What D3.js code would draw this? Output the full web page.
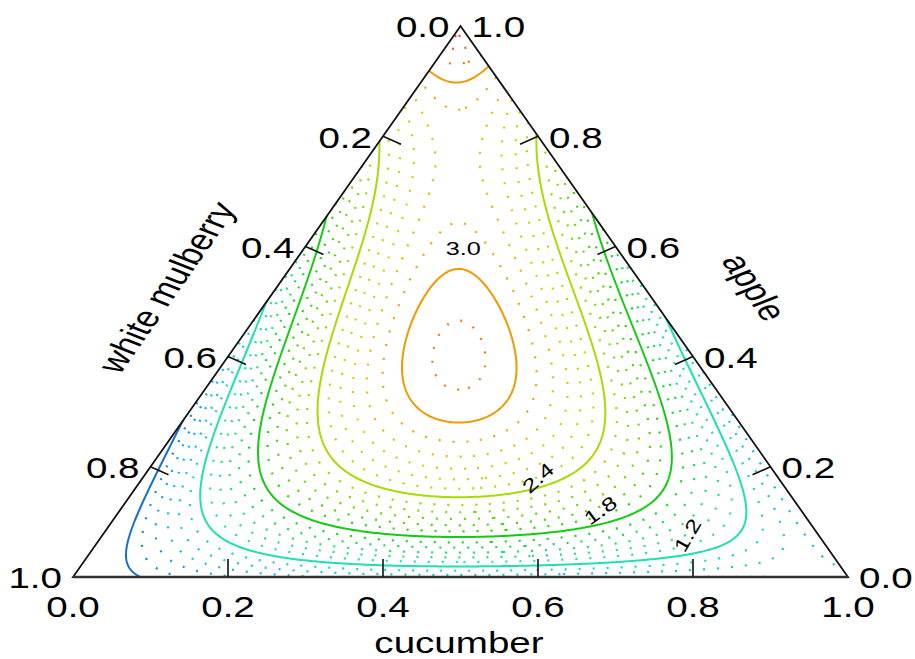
<!DOCTYPE html>
<html>
<head>
<meta charset="utf-8">
<script src="https://cdn.jsdelivr.net/npm/d3@7"></script>
<style>
  body { margin: 0; background: #fff; }
  svg { display: block; font-family: "Liberation Sans", Arial, sans-serif; }
</style>
</head>
<body>
<svg id="chart" width="915" height="659"></svg>
<script>
// --- data -------------------------------------------------------------
var axisNames = ["cucumber", "apple", "white mulberry"];
var tickValues = [0.0, 0.2, 0.4, 0.6, 0.8, 1.0];
var tickLabels = ["0.0", "0.2", "0.4", "0.6", "0.8", "1.0"];

// mixture response surface (Scheffe polynomial) fitted to the plotted contours
var linearTerms = [0.927, 3.387, 0.390];       // cuc, app, mul
var binaryTerms = [-3.517, 1.161, -2.729];     // cuc*app, cuc*mul, app*mul
var cubicTerms = [-0.517, -1.087, 0.957];      // ca(c-a), cm(c-m), am(a-m)
var ternaryTerms = [42.26];                    // cuc*app*mul
var quarticTerms = [15.49, 7.07, 19.92];       // c^2am, ca^2m, cam^2

var levels = [0.6, 0.7, 0.8, 0.9, 1.0, 1.1, 1.2, 1.3, 1.4, 1.5, 1.6, 1.7, 1.8, 1.9,
              2.0, 2.1, 2.2, 2.3, 2.4, 2.5, 2.6, 2.7, 2.8, 2.9, 3.0, 3.1, 3.2, 3.3];
var solidLevels = [0.6, 1.2, 1.8, 2.4, 3.0];
var labelLevels = ["3.0", "2.4", "1.8", "1.2"];
var labelCuc = [0.205, 0.51, 0.62, 0.755];
var labelApp = [0.597, 0.18, 0.121, 0.076];
var labelAngle = [0, -42, -36, -60];

// --- layout -----------------------------------------------------------
var svg = d3.select("#chart");
var x = d3.scaleLinear().domain([0, 1]).range([73, 848]);   // cucumber + apple/2
var y = d3.scaleLinear().domain([0, 1]).range([577, 26]);   // apple
var stretch = 1.33, fs = 29;

function px(c, a) { return [x(c + a / 2), y(a)]; }

var color = d3.scaleLinear()
  .domain([0.6, 0.9, 1.2, 1.5, 1.8, 2.1, 2.4, 2.7, 3.0, 3.3])
  .range(["#1570d0", "#10b8ec", "#1ee0b4", "#22e070", "#12cc12", "#66d800",
          "#a6dc00", "#e2c800", "#f09a00", "#e2482a"]);

function surface(c, a, m) {
  return linearTerms[0] * c + linearTerms[1] * a + linearTerms[2] * m
    + binaryTerms[0] * c * a + binaryTerms[1] * c * m + binaryTerms[2] * a * m
    + cubicTerms[0] * c * a * (c - a) + cubicTerms[1] * c * m * (c - m) + cubicTerms[2] * a * m * (a - m)
    + ternaryTerms[0] * c * a * m
    + c * a * m * (quarticTerms[0] * c + quarticTerms[1] * a + quarticTerms[2] * m);
}

// grid in pixel space, a bit larger than the triangle so no border edges show
var step = 2, x0 = 55, y0 = 10;
var nx = Math.ceil((866 - x0) / step), ny = Math.ceil((595 - y0) / step);
var values = new Array(nx * ny);
for (var j = 0; j < ny; j++) {
  for (var i = 0; i < nx; i++) {
    var a = y.invert(y0 + j * step);
    var c = x.invert(x0 + i * step) - a / 2;
    values[j * nx + i] = surface(c, a, 1 - c - a);
  }
}

var contours = d3.contours().size([nx, ny]).thresholds(levels)(values);
var path = d3.geoPath(d3.geoTransform({
  point: function(gx, gy) { this.stream.point(x0 + (gx - 0.5) * step, y0 + (gy - 0.5) * step); }
}));
function isSolid(v) { return solidLevels.some(function(s) { return Math.abs(s - v) < 1e-6; }); }

var corners = [px(0, 0), px(1, 0), px(0, 1)];
svg.append("clipPath").attr("id", "tri")
  .append("polygon").attr("points", corners.map(function(p) { return p.join(","); }).join(" "));

svg.append("g").attr("clip-path", "url(#tri)")
  .selectAll("path")
  .data(contours)
  .enter().append("path")
  .attr("d", path)
  .attr("fill", "none")
  .attr("stroke", function(d) { return color(d.value); })
  .attr("stroke-width", function(d) { return isSolid(d.value) ? 2 : 2.2; })
  .attr("stroke-dasharray", function(d) { return isSolid(d.value) ? null : "2,12"; });

// contour labels
svg.selectAll("text.clab")
  .data(labelLevels)
  .enter().append("text")
  .attr("class", "clab")
  .attr("transform", function(d, k) {
    var p = px(labelCuc[k], labelApp[k]);
    return "translate(" + p[0] + "," + p[1] + ") rotate(" + labelAngle[k] + ") scale(" + stretch + ",1)";
  })
  .attr("text-anchor", "middle")
  .attr("dy", "0.35em")
  .attr("font-size", 19)
  .text(function(d) { return d; });

// triangle frame
svg.append("polygon")
  .attr("points", corners.map(function(p) { return p.join(","); }).join(" "))
  .attr("fill", "none").attr("stroke", "#111").attr("stroke-width", 1.8);
svg.append("line")
  .attr("x1", corners[0][0]).attr("y1", corners[0][1])
  .attr("x2", corners[1][0]).attr("y2", corners[1][1])
  .attr("stroke", "#333").attr("stroke-width", 2.4);

// ticks
var inner = tickValues.slice(1, -1);
var ticks = svg.append("g").attr("stroke", "#111").attr("stroke-width", 1.6);
inner.forEach(function(v) {
  var b = px(v, 0);
  ticks.append("line").attr("x1", b[0]).attr("y1", b[1]).attr("x2", b[0]).attr("y2", b[1] - 18);
  var l = px(0, 1 - v);
  ticks.append("line").attr("x1", l[0]).attr("y1", l[1]).attr("x2", l[0] + 18).attr("y2", l[1] + 8);
  var r = px(1 - v, v);
  ticks.append("line").attr("x1", r[0]).attr("y1", r[1]).attr("x2", r[0] - 18).attr("y2", r[1] + 8);
});

function stretchedText(g, p, anchor, txt, rot) {
  return g.append("text")
    .attr("transform", "translate(" + p[0] + "," + p[1] + ") scale(" + stretch + ",1)" + (rot ? " rotate(" + rot + ")" : ""))
    .attr("text-anchor", anchor)
    .attr("dy", "0.36em")
    .attr("font-size", fs)
    .attr("fill", "#000")
    .text(txt);
}

var labels = svg.append("g");
tickValues.forEach(function(v, k) {
  var b = px(v, 0);
  stretchedText(labels, [b[0], b[1] + 30], "middle", tickLabels[k]);
  var l = px(0, 1 - v);
  stretchedText(labels, [l[0] - 11, l[1] + 1], "end", tickLabels[k]);
  var r = px(1 - v, v);
  stretchedText(labels, [r[0] + 11, r[1] + 1], "start", tickLabels[k]);
});

// axis titles
var edgeAngle = Math.atan2(y(1) - y(0), (x(0.5) - x(0)) / stretch) * 180 / Math.PI;
stretchedText(labels, [459, 643], "middle", axisNames[0]);
stretchedText(labels, [166, 287], "middle", axisNames[2], edgeAngle);
stretchedText(labels, [755, 287], "middle", axisNames[1], -edgeAngle);
</script>
</body>
</html>
